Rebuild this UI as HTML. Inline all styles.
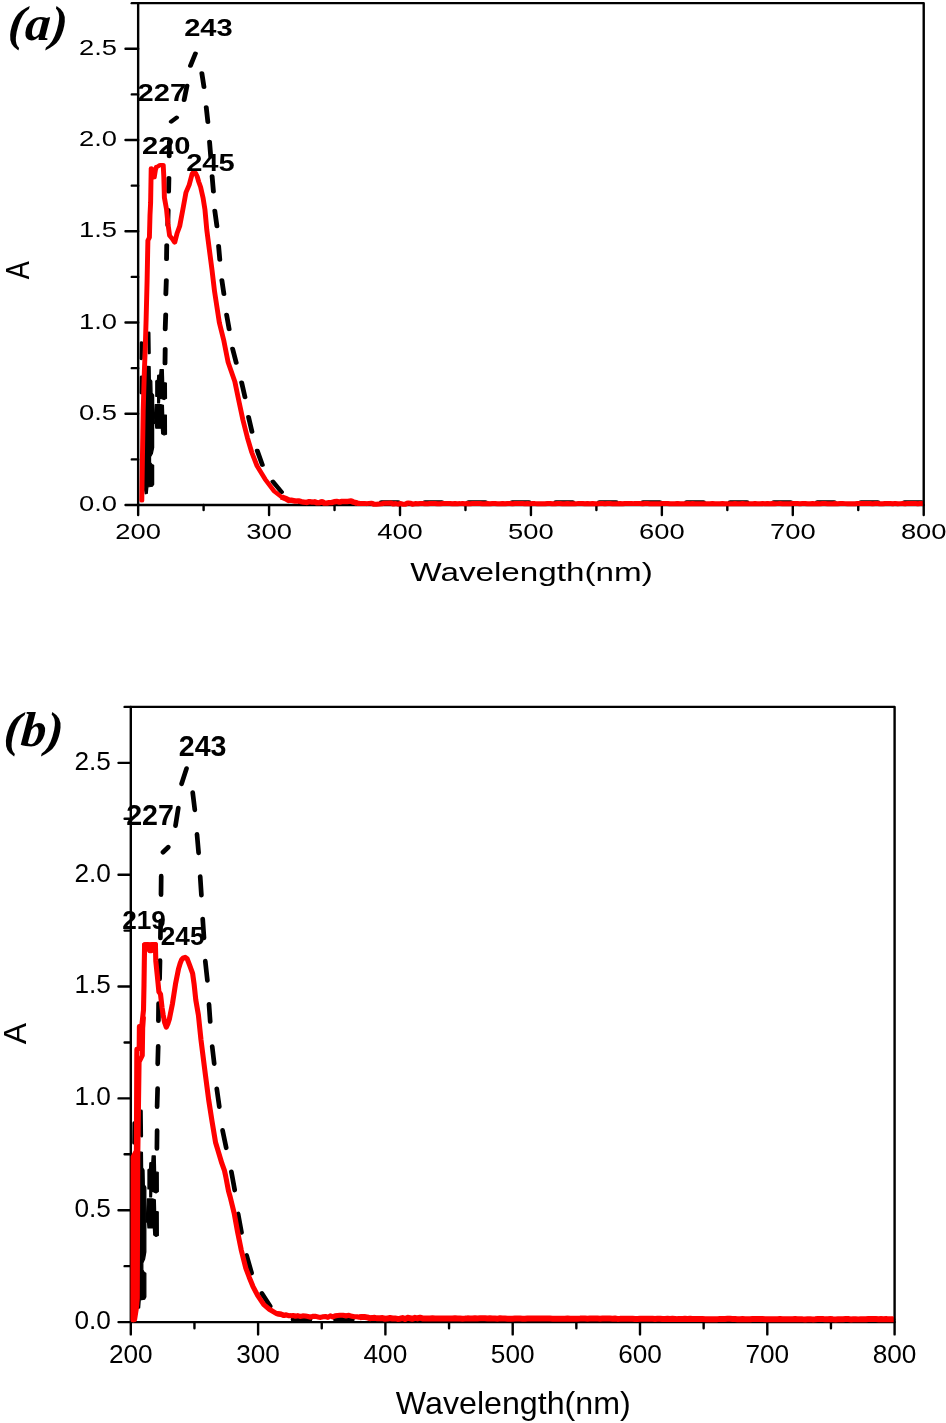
<!DOCTYPE html>
<html lang="en">
<head>
<meta charset="utf-8">
<title>UV-vis absorbance spectra (a) and (b)</title>
<style>
html,body{margin:0;padding:0;background:#fff;}
body{width:946px;height:1423px;overflow:hidden;}
svg{display:block;}
svg text{font-family:"Liberation Sans",sans-serif;}
svg text.pl{font-family:"Liberation Serif",serif;font-weight:bold;font-style:italic;}
</style>
</head>
<body>
<svg width="946" height="1423" viewBox="0 0 946 1423">
<rect width="946" height="1423" fill="#fff"/>
<g transform="translate(138.15,3.15) scale(1.0285,0.8158)">
<g stroke="#000" stroke-width="2.4" fill="none" stroke-linecap="round" stroke-linejoin="round" vector-effect="non-scaling-stroke">
<path vector-effect="non-scaling-stroke" d="M0,627.5 V0 H763.8 V627.5"/>
<path vector-effect="non-scaling-stroke" d="M-12.3,615.2 H763.8"/>
<path vector-effect="non-scaling-stroke" d="M-6.2,0 H0"/>
<path vector-effect="non-scaling-stroke" d="M63.65,615.2 v6.2 M127.3,615.2 v12.3 M190.95,615.2 v6.2 M254.6,615.2 v12.3 M318.25,615.2 v6.2 M381.9,615.2 v12.3 M445.55,615.2 v6.2 M509.2,615.2 v12.3 M572.85,615.2 v6.2 M636.5,615.2 v12.3 M700.15,615.2 v6.2 M-6.2,559.27 H0 M-12.3,503.35 H0 M-6.2,447.42 H0 M-12.3,391.49 H0 M-6.2,335.56 H0 M-12.3,279.64 H0 M-6.2,223.71 H0 M-12.3,167.78 H0 M-6.2,111.85 H0 M-12.3,55.93 H0"/>
</g>
<g font-size="26.6" fill="#000">
<text x="0" y="656.4" text-anchor="middle">200</text>
<text x="127.3" y="656.4" text-anchor="middle">300</text>
<text x="254.6" y="656.4" text-anchor="middle">400</text>
<text x="381.9" y="656.4" text-anchor="middle">500</text>
<text x="509.2" y="656.4" text-anchor="middle">600</text>
<text x="636.5" y="656.4" text-anchor="middle">700</text>
<text x="763.8" y="656.4" text-anchor="middle">800</text>
<text x="-20.5" y="622.6" text-anchor="end">0.0</text>
<text x="-20.5" y="510.75" text-anchor="end">0.5</text>
<text x="-20.5" y="398.89" text-anchor="end">1.0</text>
<text x="-20.5" y="287.04" text-anchor="end">1.5</text>
<text x="-20.5" y="175.18" text-anchor="end">2.0</text>
<text x="-20.5" y="63.33" text-anchor="end">2.5</text>
</g>
<text x="382.5" y="707.9" font-size="32.3" text-anchor="middle">Wavelength(nm)</text>
<text transform="translate(-105.7,327.4) rotate(-90)" font-size="33" text-anchor="middle">A</text>
<g stroke="#000" fill="none" stroke-linecap="round" stroke-linejoin="round">
<path stroke-width="4.7" d="M26.3,423.7 L26.1,441.6 M26.8,381.7 L26.3,399.7 M27.4,339.5 L26.9,356.9 M27.8,296.6 L27.6,313.8 M29.2,253.6 L28.8,272.1 M29.9,214.1 L29.6,231.1 M30.4,169.3 L30.2,187.7 M37.4,140.3 L32.2,145.3 M47.5,101.1 L44.7,118.7 M55.7,61.7 L50.8,76.9 M61.9,85.7 L64,102.9 M66.2,127.5 L67.8,145.9 M69.4,169.7 L70.6,188.3 M71.9,212.1 L73.2,230.9 M74.5,254.3 L76.6,273.5 M78.2,297.5 L79.4,314.6 M81.4,339.7 L83.4,356.7 M86,381.9 L88.5,399.7 M91.8,423.5 L95.4,440.9 M100.6,464.9 L103.9,483.1 M107.3,507.1 L110.7,525.5 M115.8,548.5 L120.8,566.1 M131,586.5 L139.4,599.3"/>
<polyline stroke-width="3.2" points="3.2,416 3,436"/>
<polyline stroke-width="3.2" points="3.2,458 3,478"/>
<polyline stroke-width="3" points="10.5,404 10.8,429"/>
<polygon fill="#000" stroke-width="1.3" points="5.4,447 9,445 11.6,445.5 11.8,461 13.2,463.2 13.5,478 15,480.5 15,524 15,545 13.8,552 12,556 12,563 13.4,565.5 15,566.5 15,590 13.8,592.3 9.4,593 8.8,601 7,601.5 5.4,590"/>
<polygon fill="#000" stroke-width="1.3" points="17.2,463 18.8,462 19.1,456 21,455.5 21.4,449 24.4,449 24.8,465 27.4,465.5 27.5,484.5 25.2,486 21,484 20.7,490 19,490 19,482 17.2,482"/>
<polygon fill="#000" stroke-width="1.3" points="16.6,492 21.7,492 24.5,493 24.8,504.5 27.4,505 27.5,528.5 25.2,529.5 23,528 22.6,521 17.2,521 16.8,515.5 15.4,515"/>
<path stroke-width="4.7" d="M157.37,611.77 H168.16 M194.02,611.77 H210.55 M236.42,611.77 H252.95 M278.81,611.77 H295.34 M321.2,611.77 H337.73 M363.6,611.77 H380.13 M405.99,611.77 H422.52 M448.38,611.77 H464.91 M490.77,611.77 H507.3 M533.17,611.77 H549.7 M575.56,611.77 H592.09 M617.95,611.77 H634.48 M660.35,611.77 H676.88 M702.74,611.77 H719.27 M745.13,611.77 H761.66"/>
</g>
<g stroke="#ff0000" fill="none" stroke-linejoin="round">
<polyline stroke-linecap="round" stroke-width="4.8" points="3.55,609.81 4.13,560.04 4.91,498.74 6.08,449.71 6.85,425.19 7.73,388.42 8.7,340.24 9.29,302.6 9.48,290.84 10.94,287.16 11.52,259.7 12.11,244.87 12.49,216.79 12.69,202.33 14.05,205.15 15.61,213.61 16.77,204.54 17.74,200.74 19.69,199.88 21.25,198.28 24.36,198.28 24.94,212.38 25.52,238.37 27.57,252.59 29.02,270.73 30.58,284.95 33.2,288.87 35.54,293.53 37.77,282.38 40.4,273.31 43.51,252.59 46.53,231.87 49.64,222.8 52.55,208.95 53.72,207.23 55.66,207.72 57.42,212.5 58.87,218.88 60.72,225.38 63.05,238.37 64.9,252.59 65.78,264.6 66.75,278.09 69.28,302.6 71.81,327.12 74.24,352.99 79,391.97 83.18,412.93 87.46,440.15 93.97,463.68 97.57,485.5 101.85,510.88 106.23,532.7 110.5,550.84 115.56,567.15 123.44,583.45 132.09,598.04 139.28,605.27 146.48,608.83"/>
<polyline stroke-linecap="butt" stroke-width="6.6" points="139.28,605.27 141.68,606.37 144.08,607.75 146.48,609.61 148.62,609.25 150.76,609.82 152.9,610.46 155.55,610.04 158.21,610.97 160.87,611.52 163.69,612.06 166.51,611.02 169.33,611.65 171.68,611.26 174.02,612.58 176.37,612.37 178.72,611.17 181.07,612.9 183.41,612.87 185.76,612.3 188.32,612.12 190.88,611.18 193.44,610.81 196,611.66 198.56,610.69 201.12,610.83 204.14,610.8 207.15,610.29 209,611.52 210.85,611.9 213.08,613.19"/>
<polyline stroke-linecap="butt" stroke-width="6.1" points="210.85,611.9 213.08,613.19 215.32,613.15 217.65,613.4 219.99,613.18 222.32,613.51 224.65,613.16 226.99,612.86 229.32,614.21 231.65,614.24 233.99,613.99 236.32,613.77 238.65,613.08 240.99,612.96 243.32,613.1 245.7,612.69 248.08,613.97 250.46,613.3 252.84,614.12 255.22,613.28 257.6,614.33 259.98,614.12 262.36,612.57 264.73,612.95 267.11,614.24 269.49,613.43 271.87,613.72 274.25,613.43 276.63,613.27 279.01,613.55 281.39,613.62 283.77,613.37 286.2,613.28 288.63,613.4 291.06,613.71 293.49,613.61 295.92,613.3 298.35,613.36 300.78,613.29 303.22,613.27 305.65,613.63 308.08,613.33 310.51,613.51 312.94,613.46 315.37,613.33 317.8,613.6 320.23,613.3 322.66,613.55 325.09,613.3 327.52,613.44 329.95,613.34 332.38,613.37 334.82,613.71 337.25,613.63 339.68,613.39 342.11,613.67 344.54,613.34 346.97,613.43 349.4,613.66 351.83,613.55 354.26,613.29 356.69,613.72 359.12,613.34 361.55,613.37 363.99,613.62 366.42,613.4 368.85,613.38 371.28,613.27 373.71,613.28 376.14,613.52 378.57,613.36 381,613.53 383.43,613.42 385.86,613.46 388.29,613.71 390.72,613.48 393.15,613.52 395.59,613.66 398.02,613.33 400.45,613.31 402.88,613.68 405.31,613.64 407.74,613.36 410.17,613.33 412.6,613.6 415.03,613.7 417.46,613.34 419.89,613.7 422.32,613.67 424.75,613.53 427.19,613.45 429.62,613.29 432.05,613.26 434.48,613.71 436.91,613.36 439.34,613.58 441.77,613.36 444.2,613.64 446.63,613.53 449.06,613.38 451.49,613.32 453.92,613.59 456.35,613.27 458.79,613.35 461.22,613.51 463.65,613.66 466.08,613.54 468.51,613.38 470.94,613.69 473.37,613.34 475.8,613.25 478.23,613.37 480.66,613.46 483.09,613.27 485.52,613.33 487.95,613.42 490.39,613.52 492.82,613.3 495.25,613.42 497.68,613.68 500.11,613.72 502.54,613.56 504.97,613.58 507.4,613.53 509.83,613.31 512.26,613.26 514.69,613.25 517.12,613.68 519.56,613.58 521.99,613.71 524.42,613.25 526.85,613.55 529.28,613.48 531.71,613.6 534.14,613.39 536.57,613.73 539,613.28 541.43,613.51 543.86,613.6 546.29,613.68 548.72,613.6 551.16,613.58 553.59,613.63 556.02,613.69 558.45,613.41 560.88,613.57 563.31,613.68 565.74,613.67 568.17,613.44 570.6,613.63 573.03,613.66 575.46,613.52 577.89,613.55 580.32,613.43 582.76,613.52 585.19,613.54 587.62,613.28 590.05,613.55 592.48,613.73 594.91,613.67 597.34,613.6 599.77,613.43 602.2,613.6 604.63,613.52 607.06,613.45 609.49,613.65 611.92,613.28 614.36,613.61 616.79,613.25 619.22,613.53 621.65,613.47 624.08,613.35 626.51,613.58 628.94,613.48 631.37,613.54 633.8,613.69 636.23,613.36 638.66,613.24 641.09,613.39 643.52,613.57 645.96,613.34 648.39,613.32 650.83,613.68 653.26,613.56 655.7,613.45 658.13,613.67 660.57,613.39 663,613.56 665.44,613.32 667.87,613.44 670.31,613.62 672.74,613.67 675.18,613.65 677.61,613.41 680.05,613.51 682.48,613.37 684.92,613.28 687.35,613.46 689.79,613.63 692.22,613.63 694.65,613.56 697.09,613.68 699.52,613.35 701.96,613.29 704.39,613.43 706.83,613.34 709.26,613.31 711.7,613.41 714.13,613.51 716.57,613.44 719,613.35 721.44,613.61 723.87,613.68 726.31,613.42 728.74,613.23 731.18,613.21 733.61,613.62 736.05,613.21 738.48,613.54 740.91,613.47 743.35,613.34 745.78,613.57 748.22,613.19 750.65,613.25 753.09,613.41 755.52,613.19 757.96,613.59 760.39,613.29 762.83,613.25"/>
</g>
<g font-weight="bold" fill="#000">
<text x="44.77" y="40.76" font-size="28.3">243</text>
<text x="-0.53" y="119.46" font-size="28.3">227</text>
<text x="3.74" y="185.17" font-size="28.3">220</text>
<text x="46.72" y="206.01" font-size="28.3">245</text>
</g>
</g>
<g transform="translate(130.8,706.9)">
<g stroke="#000" stroke-width="2.4" fill="none" stroke-linecap="round" stroke-linejoin="round" vector-effect="non-scaling-stroke">
<path vector-effect="non-scaling-stroke" d="M0,627.5 V0 H763.8 V627.5"/>
<path vector-effect="non-scaling-stroke" d="M-12.3,615.2 H763.8"/>
<path vector-effect="non-scaling-stroke" d="M-6.2,0 H0"/>
<path vector-effect="non-scaling-stroke" d="M63.65,615.2 v6.2 M127.3,615.2 v12.3 M190.95,615.2 v6.2 M254.6,615.2 v12.3 M318.25,615.2 v6.2 M381.9,615.2 v12.3 M445.55,615.2 v6.2 M509.2,615.2 v12.3 M572.85,615.2 v6.2 M636.5,615.2 v12.3 M700.15,615.2 v6.2 M-6.2,559.27 H0 M-12.3,503.35 H0 M-6.2,447.42 H0 M-12.3,391.49 H0 M-6.2,335.56 H0 M-12.3,279.64 H0 M-6.2,223.71 H0 M-12.3,167.78 H0 M-6.2,111.85 H0 M-12.3,55.93 H0"/>
</g>
<g font-size="26.2" fill="#000">
<text x="0" y="655.7" text-anchor="middle">200</text>
<text x="127.3" y="655.7" text-anchor="middle">300</text>
<text x="254.6" y="655.7" text-anchor="middle">400</text>
<text x="381.9" y="655.7" text-anchor="middle">500</text>
<text x="509.2" y="655.7" text-anchor="middle">600</text>
<text x="636.5" y="655.7" text-anchor="middle">700</text>
<text x="763.8" y="655.7" text-anchor="middle">800</text>
<text x="-19.9" y="622.1" text-anchor="end">0.0</text>
<text x="-19.9" y="510.25" text-anchor="end">0.5</text>
<text x="-19.9" y="398.39" text-anchor="end">1.0</text>
<text x="-19.9" y="286.54" text-anchor="end">1.5</text>
<text x="-19.9" y="174.68" text-anchor="end">2.0</text>
<text x="-19.9" y="62.83" text-anchor="end">2.5</text>
</g>
<text x="382.5" y="707.1" font-size="32.2" text-anchor="middle">Wavelength(nm)</text>
<text transform="translate(-104.5,326.6) rotate(-90)" font-size="32" text-anchor="middle">A</text>
<g stroke="#000" fill="none" stroke-linecap="round" stroke-linejoin="round">
<path stroke-width="4.7" d="M26.3,423.7 L26.1,441.6 M26.8,381.7 L26.3,399.7 M27.4,339.5 L26.9,356.9 M27.8,296.6 L27.6,313.8 M29.2,253.6 L28.8,272.1 M29.9,214.1 L29.6,231.1 M30.4,169.3 L30.2,187.7 M37.4,140.3 L32.2,145.3 M47.5,101.1 L44.7,118.7 M55.7,61.7 L50.8,76.9 M61.9,85.7 L64,102.9 M66.2,127.5 L67.8,145.9 M69.4,169.7 L70.6,188.3 M71.9,212.1 L73.2,230.9 M74.5,254.3 L76.6,273.5 M78.2,297.5 L79.4,314.6 M81.4,339.7 L83.4,356.7 M86,381.9 L88.5,399.7 M91.8,423.5 L95.4,440.9 M100.6,464.9 L103.9,483.1 M107.3,507.1 L110.7,525.5 M115.8,548.5 L120.8,566.1 M131,586.5 L139.4,599.3"/>
<polyline stroke-width="3.2" points="3.2,416 3,436"/>
<polyline stroke-width="3.2" points="3.2,458 3,478"/>
<polyline stroke-width="3" points="10.5,404 10.8,429"/>
<polygon fill="#000" stroke-width="1.3" points="5.4,447 9,445 11.6,445.5 11.8,461 13.2,463.2 13.5,478 15,480.5 15,524 15,545 13.8,552 12,556 12,563 13.4,565.5 15,566.5 15,590 13.8,592.3 9.4,593 8.8,601 7,601.5 5.4,590"/>
<polygon fill="#000" stroke-width="1.3" points="17.2,463 18.8,462 19.1,456 21,455.5 21.4,449 24.4,449 24.8,465 27.4,465.5 27.5,484.5 25.2,486 21,484 20.7,490 19,490 19,482 17.2,482"/>
<polygon fill="#000" stroke-width="1.3" points="16.6,492 21.7,492 24.5,493 24.8,504.5 27.4,505 27.5,528.5 25.2,529.5 23,528 22.6,521 17.2,521 16.8,515.5 15.4,515"/>
<path stroke-width="4.7" d="M162.2,612.5 H179.2 M204.6,612.5 H221.6 M247,612.5 H264 M289.4,612.5 H306.4 M331.8,612.5 H348.8 M374.2,612.5 H391.2 M416.6,612.5 H433.6 M459,612.5 H476 M501.4,612.5 H518.4 M543.8,612.5 H560.8 M586.2,612.5 H603.2 M628.6,612.5 H645.6 M671,612.5 H688 M713.4,612.5 H730.4 M755.8,612.5 H762.3"/>
</g>
<g stroke="#ff0000" fill="none" stroke-linejoin="round">
<polyline stroke-linecap="round" stroke-width="5" points="3.8,612.7 5.6,601.1 6.5,591.1 7,450.1 8.3,355.1 11.5,348.6 11.9,321.1 12.6,311.1"/>
<polyline stroke-linecap="round" stroke-width="5" points="2.8,612.9 4.5,593.1 4.6,450.1"/>
<polyline stroke-linecap="round" stroke-width="5.1" points="13.8,237.8 24.6,237.7"/>
<polyline stroke-linecap="round" stroke-width="5.1" points="2.2,612.9 2.4,450.1 5.6,444.1 6,349.1 6.1,342.3 8.4,341.7 8.6,319.5 11,318.9 12.7,303.1 13.2,278.1 13.5,256.1 13.8,237.8 16.8,237.6 18.8,243.9 20.6,243.9 22,237.7 24.6,237.7 25,254 26.6,269.5 28.1,284.9 29.7,287.2 31.2,300.4 32.4,308.1 33.9,315.8 35.5,320.3 37,317.1 38.6,312 41.7,296.5 44.7,277.2 47.8,261.7 49.4,256.3 50.9,252.7 52.6,251 54.4,250.5 56.4,251.9 58.7,257.9 61.8,266.4 63.3,277.2 65,293.1 67.6,308.1 70.2,333.1 74.5,367.1 77.9,393.1 81.2,414.2 84.7,435.3 87.2,443.7 91,456.3 93.6,463.4 95.1,470.4 97.8,484.5 99.4,490.1 103.4,506.4 106.7,524.6 110.4,542.9 115,561.2 118.4,570.3 122.1,579.4 126.8,588.5 133,597.7 138.5,602.3 145.8,606.7 153.1,608.3"/>
<polyline stroke-linecap="butt" stroke-width="5.1" points="145.8,606.7 148.23,606.97 150.67,607.24 153.1,608.53 155.4,607.88 157.7,608.8 160,608.77 162.3,608.54 164.6,609.34 166.9,608.77 169.2,609.5 171.88,609.01 174.56,609.11 177.24,609.67 179.92,610.33 182.6,609.34 185.01,609.46 187.43,610.03 189.84,610.49 192.26,609.9 194.67,609.6 197.09,610.44 199.5,609.02 201.93,610.04 204.35,608.98 206.77,608.57 209.2,608.33 212.2,608.41 215.2,608.97 218.2,608.42 221.2,609.42 223.7,609.86 226.2,609.81 228.7,610.42 231.2,610.04"/>
<polyline stroke-linecap="butt" stroke-width="6" points="228.7,610.42 231.2,610.04 233.77,610.14 236.34,610.46 238.91,611.27 241.49,610.99 244.06,610.92 246.63,611.43 249.2,611.33 251.7,611.11 254.2,611.85 256.7,611.72 259.2,611.04 261.7,611.54 264.2,611.48 266.7,612.01 269.2,611.79 271.7,611.14 274.2,612.18 276.7,610.9 279.2,611.35 281.7,611.87 284.2,610.97 286.7,611.48 289.2,610.81 291.7,611.57 294.2,611.61 296.7,611.54 299.2,611.66 301.7,611.44 304.2,611.6 306.7,611.56 309.2,611.56 311.7,611.51 314.2,611.67 316.7,611.71 319.2,611.53 321.7,611.61 324.2,611.37 326.7,611.63 329.2,611.61 331.7,611.75 334.2,611.69 336.7,611.47 339.2,611.52 341.7,611.63 344.2,611.38 346.7,611.56 349.2,611.44 351.7,611.42 354.2,611.4 356.7,611.69 359.2,611.44 361.7,611.49 364.2,611.55 366.7,611.75 369.2,611.43 371.7,611.58 374.2,611.63 376.7,611.77 379.2,611.75 381.7,611.77 384.2,611.54 386.7,611.6 389.2,611.58 391.7,611.8 394.2,611.83 396.7,611.52 399.2,611.53 401.7,611.56 404.2,611.56 406.7,611.67 409.2,611.72 411.7,611.59 414.2,611.49 416.7,611.66 419.2,611.65 421.7,611.73 424.2,611.89 426.7,611.79 429.2,611.73 431.7,611.77 434.2,611.8 436.7,611.56 439.2,611.9 441.7,611.86 444.2,611.9 446.7,611.87 449.2,611.72 451.7,611.72 454.2,611.61 456.7,611.83 459.2,611.6 461.7,611.61 464.2,611.67 466.7,611.66 469.2,611.74 471.7,611.63 474.2,611.62 476.7,611.68 479.2,611.67 481.7,611.78 484.2,611.66 486.7,612 489.2,611.91 491.7,611.73 494.2,611.78 496.7,611.82 499.2,611.84 501.7,611.75 504.2,612.04 506.7,612.11 509.2,611.91 511.7,611.92 514.2,611.77 516.7,611.78 519.2,611.89 521.7,611.86 524.2,612.1 526.7,611.84 529.2,611.79 531.7,612.17 534.2,612.01 536.7,611.86 539.2,612.03 541.7,611.83 544.2,612.04 546.7,612.22 549.2,612.19 551.7,612.13 554.2,611.96 556.7,612.01 559.2,611.94 561.7,612.19 564.2,612.1 566.7,612.2 569.2,612.03 571.7,611.99 574.2,612.23 576.7,612.31 579.2,612.26 581.7,612.25 584.2,612.26 586.7,612.23 589.2,612.03 591.7,612.15 594.2,612.09 596.7,611.97 599.2,611.97 601.7,612.08 604.2,612.07 606.7,612.25 609.2,612.36 611.7,612.16 614.2,612.36 616.7,612.39 619.2,612.38 621.7,612.15 624.2,612.1 626.7,612.11 629.2,612.1 631.7,612.11 634.2,612.28 636.7,612.4 639.2,612.38 641.7,612.24 644.2,612.31 646.7,612.37 649.2,612.09 651.7,612.33 654.2,612.43 656.7,612.39 659.2,612.38 661.7,612.28 664.2,612.16 666.7,612.41 669.2,612.23 671.73,612.42 674.26,612.49 676.8,612.26 679.33,612.26 681.86,612.48 684.39,612.39 686.93,612.17 689.46,612.15 691.99,612.16 694.52,612.46 697.06,612.42 699.59,612.16 702.12,612.43 704.65,612.49 707.19,612.36 709.72,612.24 712.25,612.32 714.78,612.15 717.32,612.11 719.85,612.49 722.38,612.36 724.91,612.31 727.45,612.47 729.98,612.27 732.51,612.45 735.04,612.43 737.58,612.18 740.11,612.2 742.64,612.22 745.17,612.2 747.71,612.33 750.24,612.2 752.77,612.27 755.3,612.15 757.84,612.46 760.37,612.24 762.9,612.28"/>
</g>
<g font-weight="bold" fill="#000">
<text x="48" y="48.9" font-size="28.6">243</text>
<text x="-4.6" y="117.9" font-size="28.6">227</text>
<text x="-8.6" y="221.7" font-size="26.2">219</text>
<text x="30" y="238.1" font-size="26.2">245</text>
</g>
</g>
<text class="pl" transform="translate(7.3,39.8) scale(1.04,1) skewX(-4)" font-size="49">(a)</text>
<text class="pl" transform="translate(3.0,745.8) scale(1.04,1) skewX(-4)" font-size="49">(b)</text>
</svg>
</body>
</html>
